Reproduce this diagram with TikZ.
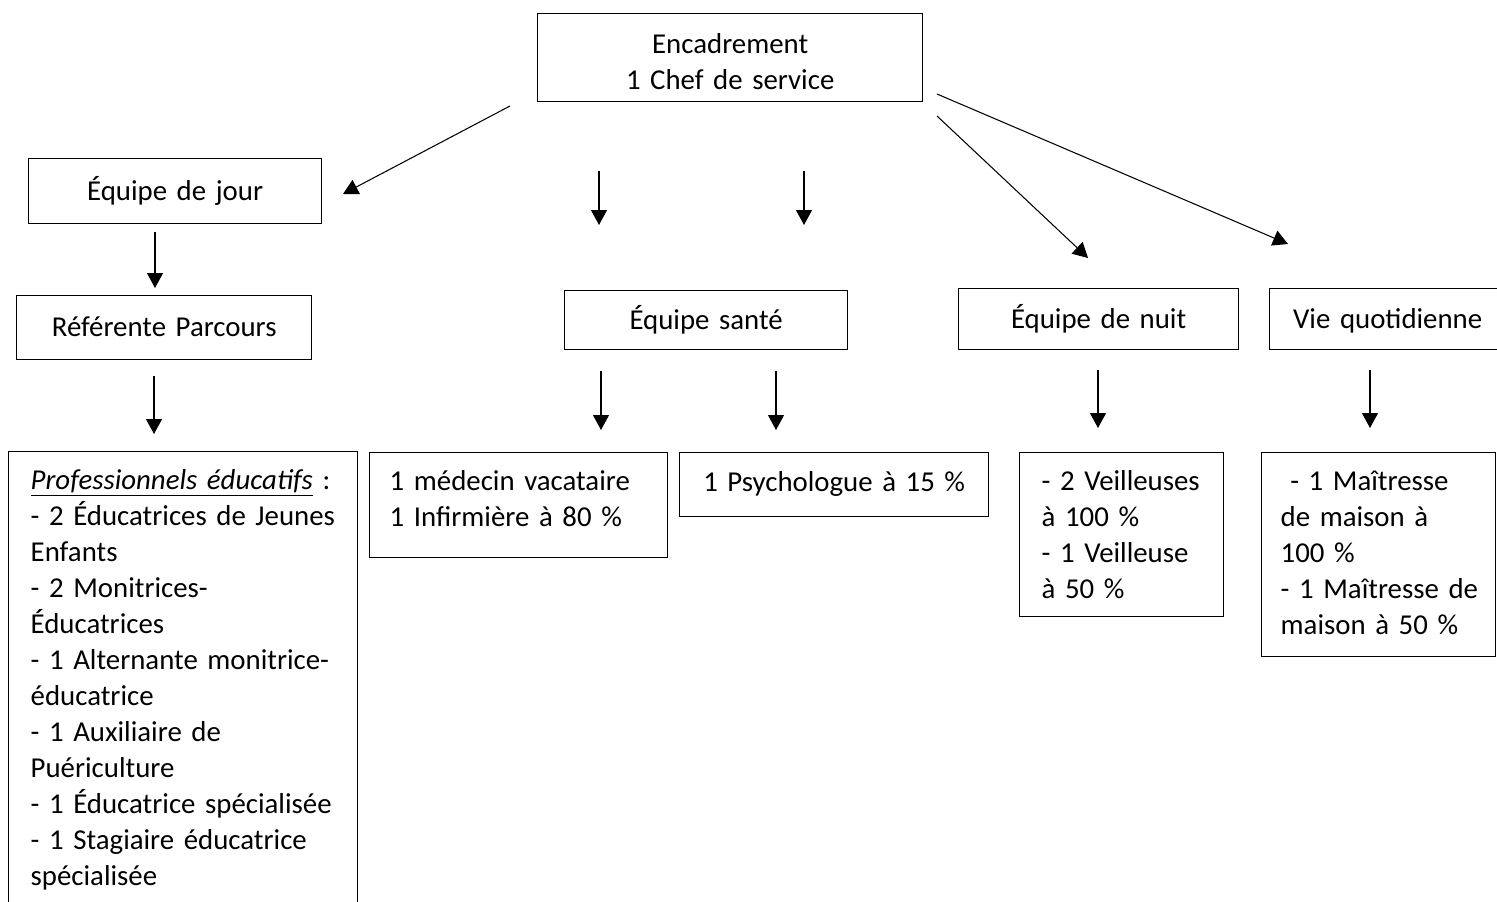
\documentclass[tikz,border=0pt]{standalone}
\usepackage{fontspec}
\setmainfont{Carlito}
\usetikzlibrary{arrows.meta}

\begin{document}
\begin{tikzpicture}[x=0.02cm,y=-0.02cm,
  box/.style={draw,line width=0.8pt,anchor=north west,inner ysep=0pt,
    font=\fontsize{16.4pt}{20.5pt}\selectfont},
  mid/.style={box,inner xsep=0pt,align=center},
  lft/.style={box,inner xsep=0.44cm,align=left},
  arr/.style={-{Triangle[length=0.3cm,width=0.32cm]},line width=0.6pt}]
\useasboundingbox (0,0) rectangle (1497,902);
\clip (0,0) rectangle (1497,902);

\node[mid,text width=7.7cm,text height=0.8cm,text depth=0.96cm] (enc) at (537,13) {Encadrement\\1 Chef de service};
\node[mid,text width=5.86cm,text height=0.83cm,text depth=0.47cm] (jour) at (28,158) {Équipe de jour};
\node[mid,text width=5.9cm,text height=0.82cm,text depth=0.46cm] (ref) at (16,295) {Référente Parcours};
\node[mid,text width=5.66cm,text height=0.77cm,text depth=0.41cm] (sante) at (564,290) {Équipe santé};
\node[mid,text width=5.6cm,text height=0.79cm,text depth=0.43cm] (nuit) at (958,288) {Équipe de nuit};
\node[mid,text width=4.72cm,text height=0.79cm,text depth=0.43cm] (vie) at (1269,288) {Vie quotidienne};

\node[lft,text width=6.1cm,text height=0.76cm,text depth=9.02cm] (prof) at (8,451)
  {\underline{\textit{Professionnels éducatifs}} :\\
   - 2 Éducatrices de Jeunes\\
   Enfants\\
   - 2 Monitrices-\\
   Éducatrices\\
   - 1 Alternante monitrice-\\
   éducatrice\\
   - 1 Auxiliaire de\\
   Puériculture\\
   - 1 Éducatrice spécialisée\\
   - 1 Stagiaire éducatrice\\
   spécialisée};
\node[lft,inner xsep=0.4cm,text width=5.16cm,text height=0.76cm,text depth=1.34cm] (med) at (369,452)
  {1 médecin vacataire\\1 Infirmière à 80 \%};
\node[mid,text width=6.18cm,text height=0.78cm,text depth=0.5cm] (psy) at (679,452) {1 Psychologue à 15 \%};
\node[lft,text width=3.2cm,text height=0.76cm,text depth=2.52cm] (veil) at (1019,452)
  {- 2 Veilleuses\\à 100 \%\\- 1 Veilleuse\\à 50 \%};
\node[lft,inner xsep=0.38cm,text width=3.92cm,text height=0.76cm,text depth=3.32cm] (mait) at (1261,452)
  {~- 1 Maîtresse\\de maison à\\100 \%\\\mbox{- 1 Maîtresse de}\\maison à 50 \%};

\coordinate (s1) at (510,106);  \coordinate (e1) at (343,194);
\coordinate (s2) at (599,171);  \coordinate (e2) at (599,225);
\coordinate (s3) at (804,171);  \coordinate (e3) at (804,225);
\coordinate (s4) at (937,116);  \coordinate (e4) at (1088,258);
\coordinate (s5) at (937,94);   \coordinate (e5) at (1288,244);
\coordinate (s6) at (155,232);  \coordinate (e6) at (155,288);
\coordinate (s7) at (154,376);  \coordinate (e7) at (154,434);
\coordinate (s8) at (601,371);  \coordinate (e8) at (601,430);
\coordinate (s9) at (776,371);  \coordinate (e9) at (776,430);
\coordinate (s10) at (1098,370); \coordinate (e10) at (1098,428);
\coordinate (s11) at (1370,370); \coordinate (e11) at (1370,428);
\foreach \i in {1,...,11}
  \draw[arr] (s\i) -- (e\i);
\end{tikzpicture}
\end{document}
